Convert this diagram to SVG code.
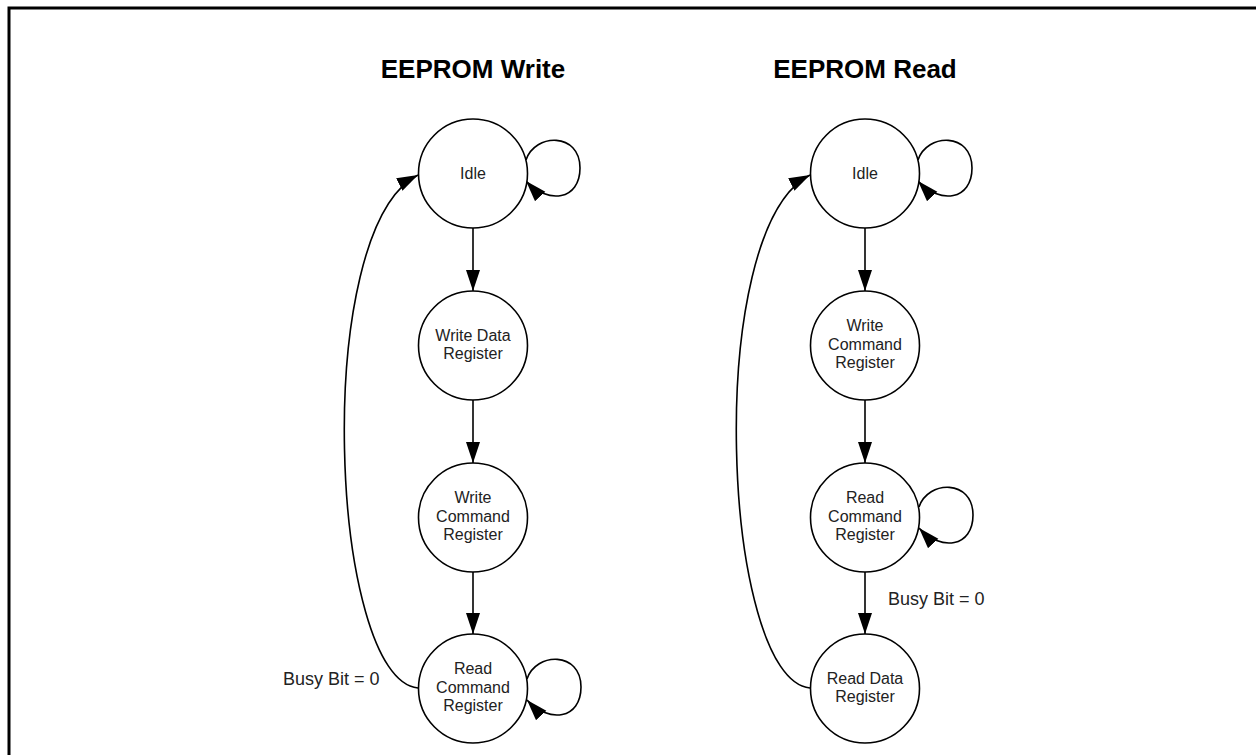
<svg xmlns="http://www.w3.org/2000/svg" width="1256" height="755" viewBox="0 0 1256 755">
<defs>
<style>
.frame{fill:none;stroke:#000;stroke-width:3}
.node circle{fill:#fff;stroke:#000;stroke-width:1.6}
.node text{font-family:"Liberation Sans",Arial,sans-serif;font-size:16px;fill:#222;text-anchor:middle}
.title{font-family:"Liberation Sans",Arial,sans-serif;font-size:26px;font-weight:bold;fill:#000;text-anchor:middle}
.lbl{font-family:"Liberation Sans",Arial,sans-serif;font-size:18px;fill:#222}
.edge{fill:none;stroke:#000;stroke-width:1.6;marker-end:url(#ah)}
</style>
<marker id="ah" markerUnits="userSpaceOnUse" markerWidth="22" markerHeight="16" refX="21" refY="7" orient="auto">
<path d="M0,0 L21,7 L0,14 Z" fill="#000"/>
</marker>
</defs>
<rect class="frame" x="9" y="8" width="1262" height="762"/>
<text class="title" x="473" y="77.5">EEPROM Write</text>
<text class="title" x="865" y="77.5">EEPROM Read</text>

<g id="connectors">
<!-- write column -->
<path class="edge" d="M473,228 L473,291"/>
<path class="edge" d="M473,400 L473,463"/>
<path class="edge" d="M473,572 L473,634"/>
<path class="edge" d="M526,160 C535,133 580,132 580,168 C580,200 548,205 526,181"/>
<path class="edge" d="M527,679 C536,652 581,651 581,687 C581,719 549,724 527,700"/>
<path class="edge" d="M418,688 C330,680 310,230 418,175"/>
<!-- read column -->
<path class="edge" d="M865,228 L865,291"/>
<path class="edge" d="M865,400 L865,463"/>
<path class="edge" d="M865,572 L865,634"/>
<path class="edge" d="M918,160 C927,133 972,132 972,168 C972,200 940,205 918,181"/>
<path class="edge" d="M919,507 C928,480 973,479 973,515 C973,547 941,552 919,528"/>
<path class="edge" d="M810,688 C722,680 702,230 810,175"/>
</g>
<text class="lbl" x="283" y="685">Busy Bit = 0</text>
<text class="lbl" x="888" y="605">Busy Bit = 0</text>

<g id="w-idle" class="node"><circle cx="473" cy="173.5" r="54.5"/><text x="473" y="178.5">Idle</text></g>
<g id="w-wdr" class="node"><circle cx="473" cy="345.5" r="54.5"/><text x="473" y="340.5">Write Data</text><text x="473" y="359">Register</text></g>
<g id="w-wcr" class="node"><circle cx="473" cy="517.5" r="54.5"/><text x="473" y="503">Write</text><text x="473" y="521.5">Command</text><text x="473" y="540">Register</text></g>
<g id="w-rcr" class="node"><circle cx="473" cy="688.5" r="54.5"/><text x="473" y="674">Read</text><text x="473" y="692.5">Command</text><text x="473" y="711">Register</text></g>

<g id="r-idle" class="node"><circle cx="865" cy="173.5" r="54.5"/><text x="865" y="178.5">Idle</text></g>
<g id="r-wcr" class="node"><circle cx="865" cy="345.5" r="54.5"/><text x="865" y="331">Write</text><text x="865" y="349.5">Command</text><text x="865" y="368">Register</text></g>
<g id="r-rcr" class="node"><circle cx="865" cy="517.5" r="54.5"/><text x="865" y="503">Read</text><text x="865" y="521.5">Command</text><text x="865" y="540">Register</text></g>
<g id="r-rdr" class="node"><circle cx="865" cy="688.5" r="54.5"/><text x="865" y="683.5">Read Data</text><text x="865" y="702">Register</text></g>
</svg>
